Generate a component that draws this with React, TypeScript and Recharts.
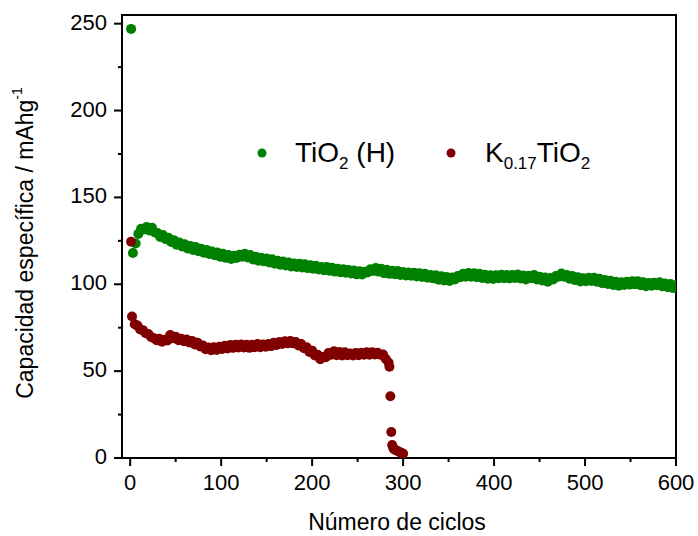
import React from 'react';
import { ScatterChart, Scatter, XAxis, YAxis, ReferenceArea, Legend } from 'recharts';

// ---- Data ----
const tio2FirstCycle = 1;
const tio2FirstCapacity = 247;
const tio2StartCycle = 3;
const tio2Step = 3;
const tio2Capacity = [
  118.0, 123.5, 129.0, 132.0, 131.5, 133.0, 131.0, 132.5, 129.8, 129.5,
  127.2, 128.3, 126.0, 126.8, 124.4, 125.4, 122.8, 124.0, 121.8, 123.0,
  120.6, 122.1, 119.8, 121.4, 119.0, 120.5, 118.2, 119.8, 117.4, 118.9,
  116.7, 118.3, 115.9, 117.5, 115.2, 116.9, 114.6, 116.4, 115.1, 117.0,
  115.8, 117.6, 115.4, 116.8, 114.3, 115.9, 113.6, 115.3, 113.2, 114.8,
  112.6, 114.4, 111.8, 113.5, 111.2, 113.1, 110.8, 112.6, 110.3, 112.0,
  110.0, 111.8, 109.7, 111.5, 109.3, 111.0, 108.9, 110.7, 108.5, 110.0,
  108.1, 110.0, 107.8, 109.5, 107.3, 109.0, 106.9, 108.7, 106.6, 108.2,
  106.2, 107.9, 105.7, 107.5, 105.6, 107.2, 106.8, 108.6, 107.7, 109.4,
  107.3, 108.9, 106.4, 108.3, 106.0, 107.8, 105.8, 107.6, 105.3, 107.0,
  105.1, 106.8, 104.9, 106.7, 104.5, 106.3, 104.2, 106.0, 103.8, 105.4,
  103.4, 105.2, 102.6, 104.6, 102.2, 104.2, 101.9, 103.9, 102.8, 104.8,
  104.0, 106.0, 104.4, 106.5, 104.3, 106.4, 104.1, 106.0, 103.6, 105.5,
  103.2, 105.2, 103.0, 105.2, 103.5, 105.5, 103.5, 105.4, 103.4, 105.3,
  103.6, 105.6, 103.3, 105.0, 102.8, 104.9, 103.5, 105.3, 102.7, 104.4,
  102.2, 103.9, 101.5, 103.6, 102.8, 104.8, 104.4, 106.2, 104.4, 105.3,
  103.2, 104.8, 102.4, 104.1, 101.6, 103.5, 101.8, 103.8, 101.9, 103.7,
  101.5, 103.2, 100.6, 102.4, 100.2, 102.0, 99.6, 101.5, 99.2, 101.1,
  99.6, 101.5, 99.8, 101.8, 100.0, 101.8, 99.4, 101.2, 98.9, 100.8,
  99.2, 100.9, 99.4, 101.2, 98.8, 100.4, 98.3, 100.1, 97.8, 99.4,
];

const k017FirstCycle = 1;
const k017FirstCapacity = 124.5;
const k017StartCycle = 2;
const k017Step = 3;
const k017Capacity = [
  81.5, 77.0, 76.2, 74.0, 73.6, 71.8, 71.4, 69.6, 69.0, 67.8,
  68.6, 66.9, 68.0, 67.6, 70.8, 69.0, 69.8, 67.8, 68.6, 67.2,
  68.2, 66.5, 67.4, 65.4, 66.4, 64.2, 64.8, 62.6, 63.6, 62.0,
  63.8, 62.2, 64.0, 62.8, 64.6, 63.0, 65.0, 63.4, 65.2, 63.6,
  65.4, 63.6, 65.2, 63.4, 65.2, 63.8, 65.6, 63.8, 65.4, 64.0,
  65.6, 64.4, 66.4, 65.0, 66.8, 65.6, 67.2, 66.0, 67.4, 66.0,
  66.8, 64.8, 65.6, 63.2, 63.8, 61.0, 61.8, 59.0, 59.4, 56.8,
  58.2, 58.0, 60.4, 59.4, 61.4, 59.2, 61.0, 59.0, 60.8, 59.2,
  60.2, 59.0, 60.4, 59.2, 60.6, 59.4, 60.8, 59.4, 60.8, 59.6,
  60.6, 59.4, 59.6, 57.0, 55.0,
];
const k017TailCycles = [285, 286, 287, 288, 289, 290, 292, 294, 296, 298, 300];
const k017TailCapacity = [52.5, 35.5, 15.0, 7.5, 6.0, 5.0, 4.5, 4.0, 3.5, 3.0, 2.5];

const xTicks = [0, 50, 100, 150, 200, 250, 300, 350, 400, 450, 500, 550, 600];
const yTicks = [0, 25, 50, 75, 100, 125, 150, 175, 200, 225, 250];
const xDomain = [-9, 600];
const yDomain = [0, 255];

const GREEN = '#008000';
const RED = '#800000';
const FONT = '"Liberation Sans", Arial, sans-serif';

const tio2Data = [
  { cycle: tio2FirstCycle, cap: tio2FirstCapacity },
  ...tio2Capacity.map((cap, i) => ({ cycle: tio2StartCycle + i * tio2Step, cap })),
];
const k017Data = [
  { cycle: k017FirstCycle, cap: k017FirstCapacity },
  ...k017Capacity.map((cap, i) => ({ cycle: k017StartCycle + i * k017Step, cap })),
  ...k017TailCycles.map((cycle, i) => ({ cycle, cap: k017TailCapacity[i] })),
];

const YTick = (props: any) => {
  const { x, y, payload } = props;
  const major = payload.value % 50 === 0;
  return (
    <g>
      <line x1={x} x2={x - (major ? 8 : 4)} y1={y} y2={y} stroke="#000" strokeWidth={2} />
      {major && (
        <text x={x - 15} y={y + 6} textAnchor="end" fontSize={22} fontFamily={FONT} fill="#000">
          {payload.value}
        </text>
      )}
    </g>
  );
};

const XTick = (props: any) => {
  const { x, y, payload } = props;
  const major = payload.value % 100 === 0;
  return (
    <g>
      <line x1={x} x2={x} y1={y} y2={y + (major ? 8 : 4)} stroke="#000" strokeWidth={2} />
      {major && (
        <text x={x} y={y + 32} textAnchor="middle" fontSize={22} fontFamily={FONT} fill="#000">
          {payload.value}
        </text>
      )}
    </g>
  );
};

const Dot = (color: string) => (props: any) => (
  <circle cx={props.cx} cy={props.cy} r={5} fill={color} />
);

const LegendContent = () => (
  <svg width={400} height={60} style={{ display: 'block' }}>
    <circle cx={22} cy={23} r={4.5} fill={GREEN} />
    <text x={55} y={32} fontSize={28} fontFamily={FONT} fill="#000">
      TiO<tspan fontSize={17} dy={7}>2</tspan>
      <tspan dy={-7}> (H)</tspan>
    </text>
    <circle cx={211} cy={23} r={4.5} fill={RED} />
    <text x={245} y={32} fontSize={28} fontFamily={FONT} fill="#000">
      K<tspan fontSize={17} dy={7}>0.17</tspan>
      <tspan dy={-7}>TiO</tspan>
      <tspan fontSize={17} dy={7}>2</tspan>
    </text>
  </svg>
);

const YTitle = () => (
  <text
    x={33}
    y={243}
    transform="rotate(-90, 33, 243)"
    textAnchor="middle"
    fontSize={23}
    fontFamily={FONT}
    fill="#000"
  >
    Capacidad específica / mAhg<tspan fontSize={14} dy={-11}>-1</tspan>
  </text>
);

const XTitle = () => (
  <text x={397} y={530} textAnchor="middle" fontSize={23} fontFamily={FONT} fill="#000">
    Número de ciclos
  </text>
);

export default function App() {
  return (
    <div style={{ position: 'absolute', left: 0, top: 0, width: 698, height: 536, background: '#fff' }}>
      <ScatterChart width={698} height={536} margin={{ top: 15, right: 22, bottom: 0, left: 0 }}>
        <XAxis
          type="number"
          dataKey="cycle"
          domain={xDomain}
          ticks={xTicks}
          allowDataOverflow
          height={78}
          tickSize={0}
          tickMargin={0}
          tickLine={false}
          axisLine={{ stroke: '#000', strokeWidth: 2 }}
          tick={<XTick />}
          interval={0}
          label={<XTitle />}
        />
        <YAxis
          type="number"
          dataKey="cap"
          domain={yDomain}
          ticks={yTicks}
          allowDataOverflow
          width={122}
          tickSize={0}
          tickMargin={0}
          tickLine={false}
          axisLine={{ stroke: '#000', strokeWidth: 2 }}
          tick={<YTick />}
          interval={0}
          label={<YTitle />}
        />
        <ReferenceArea
          x1={xDomain[0]}
          x2={xDomain[1]}
          y1={yDomain[0]}
          y2={yDomain[1]}
          fill="none"
          fillOpacity={0}
          stroke="#000"
          strokeWidth={2}
          ifOverflow="visible"
        />
        <Scatter name="TiO2 (H)" data={tio2Data} fill={GREEN} shape={Dot(GREEN)} isAnimationActive={false} />
        <Scatter name="K0.17TiO2" data={k017Data} fill={RED} shape={Dot(RED)} isAnimationActive={false} />
        <Legend
          layout="horizontal"
          verticalAlign="middle"
          align="center"
          content={<LegendContent />}
          wrapperStyle={{ position: 'absolute', left: 240, top: 130, width: 400, height: 60 }}
        />
      </ScatterChart>
    </div>
  );
}
